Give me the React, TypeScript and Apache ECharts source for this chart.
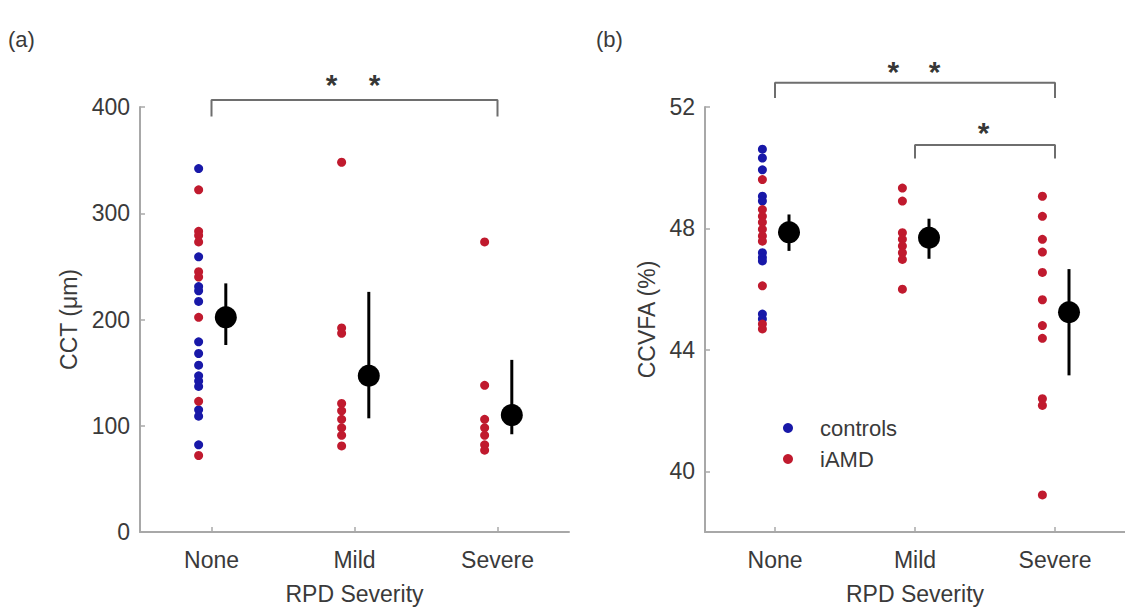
import React, { useEffect, useRef } from "react";
import * as echarts from "echarts";

// ---- data ----
const categories = ["None", "Mild", "Severe"];

// (a) CCT (µm)
const cctNoneControls = [342, 259, 231, 227, 217, 179, 168, 157, 147, 142, 137, 115, 109, 82];
const cctNoneIAMD = [322, 283, 279, 273, 245, 240, 202, 123, 72];
const cctMildIAMD = [348, 192, 187, 121, 114, 106, 98, 91, 81];
const cctSevereIAMD = [273, 138, 106, 98, 91, 82, 77];
const cctMean = [202, 147, 110];
const cctLow = [176, 107, 92];
const cctHigh = [234, 226, 162];
const cctTicks = [0, 100, 200, 300, 400];

// (b) CCVFA (%)
const ccvfaNoneControls = [50.61, 50.32, 49.93, 49.06, 48.9, 47.2, 47.04, 46.93, 45.18, 45.02];
const ccvfaNoneIAMD = [49.61, 48.62, 48.4, 48.2, 47.97, 47.75, 47.58, 46.11, 44.85, 44.69];
const ccvfaMildIAMD = [49.33, 48.9, 47.86, 47.64, 47.42, 47.2, 46.98, 46.0];
const ccvfaSevereIAMD = [49.06, 48.4, 47.64, 47.22, 46.55, 45.65, 44.8, 44.38, 42.39, 42.17, 39.22];
const ccvfaMean = [47.87, 47.69, 45.24];
const ccvfaLow = [47.26, 47.0, 43.16];
const ccvfaHigh = [48.46, 48.32, 46.66];
const ccvfaTicks = [40, 44, 48, 52];

// significance brackets: [fromCat, toCat, top, foot]
const cctBrackets = [[1, 3, 406.5, 391]];
const cctStars = [[1.84, 425], [2.14, 425]];
const ccvfaBrackets = [[1, 3, 52.8, 52.3], [2, 3, 50.75, 50.3]];
const ccvfaStars = [[1.845, 53.31], [2.14, 53.31], [2.49, 51.3]];

// ---- style ----
const DOT_OFFSET = -0.09;
const MEAN_OFFSET = 0.1;
const BLUE = "#1818a8";
const RED = "#c01a2e";
const AXIS = "#a8a8a8";
const TXT = "#3a3a3a";
const FONT = "Liberation Sans, Arial, Helvetica, sans-serif";

const dots = (cat: number, vals: number[]) => vals.map((v) => [cat + DOT_OFFSET, v]);
const means = (m: number[], lo: number[], hi: number[]) =>
  m.map((v, i) => [i + 1 + MEAN_OFFSET, v, lo[i], hi[i]]);
const bracketLine = (b: number[]) => [[b[0], b[3]], [b[0], b[2]], [b[1], b[2]], [b[1], b[3]]];

function renderMean(params: any, api: any) {
  const x = api.value(0);
  const pM = api.coord([x, api.value(1)]);
  const pLo = api.coord([x, api.value(2)]);
  const pHi = api.coord([x, api.value(3)]);
  return {
    type: "group",
    children: [
      { type: "line", shape: { x1: pLo[0], y1: pLo[1], x2: pHi[0], y2: pHi[1] }, style: { stroke: "#000", lineWidth: 3 } },
      { type: "circle", shape: { cx: pM[0], cy: pM[1], r: 11 }, style: { fill: "#000" } },
    ],
  };
}

function xAxisFor(gridIndex: number) {
  return {
    type: "value",
    gridIndex,
    min: 0.5,
    max: 3.5,
    name: "RPD Severity",
    nameLocation: "middle",
    nameGap: 50,
    nameTextStyle: { fontSize: 23, color: TXT, fontFamily: FONT },
    axisLine: { show: true, lineStyle: { color: AXIS, width: 2 } },
    axisTick: { show: true, inside: true, length: 5, lineStyle: { color: AXIS, width: 1.5 }, customValues: [1, 2, 3] },
    axisLabel: {
      customValues: [1, 2, 3],
      formatter: (v: number) => categories[Math.round(v) - 1] || "",
      fontSize: 23,
      color: TXT,
      fontFamily: FONT,
      margin: 16,
    },
    splitLine: { show: false },
  };
}

function yAxisFor(gridIndex: number, min: number, max: number, ticks: number[], name: string, nameGap: number) {
  return {
    type: "value",
    gridIndex,
    min,
    max,
    name,
    nameLocation: "middle",
    nameGap,
    nameTextStyle: { fontSize: 23, color: TXT, fontFamily: FONT },
    axisLine: { show: true, lineStyle: { color: AXIS, width: 2 } },
    axisTick: { show: true, inside: true, length: 5, lineStyle: { color: AXIS, width: 1.5 }, customValues: ticks },
    axisLabel: { customValues: ticks, fontSize: 23, color: TXT, fontFamily: FONT, margin: 10 },
    splitLine: { show: false },
  };
}

function starSeries(xi: number, data: number[][]) {
  return {
    type: "scatter",
    xAxisIndex: xi,
    yAxisIndex: xi,
    data,
    symbol: "circle",
    symbolSize: 2,
    itemStyle: { color: "rgba(0,0,0,0)" },
    clip: false,
    silent: true,
    z: 10,
    label: {
      show: true,
      position: "inside",
      formatter: "*",
      fontSize: 30,
      fontWeight: "bold",
      color: "#000",
      fontFamily: FONT,
      offset: [0, 4],
    },
  };
}

function bracketSeries(xi: number, b: number[]) {
  return {
    type: "line",
    xAxisIndex: xi,
    yAxisIndex: xi,
    data: bracketLine(b),
    symbol: "none",
    clip: false,
    silent: true,
    lineStyle: { color: "#6e6e6e", width: 2 },
  };
}

function scatter(name: string, color: string, xi: number, data: number[][]) {
  return {
    name,
    type: "scatter",
    xAxisIndex: xi,
    yAxisIndex: xi,
    data,
    symbolSize: 9,
    itemStyle: { color, opacity: 1 },
  };
}

export default function App() {
  const ref = useRef<HTMLDivElement>(null);
  useEffect(() => {
    if (!ref.current) return;
    const chart = echarts.init(ref.current, undefined, { renderer: "svg" });
    chart.setOption({
      animation: false,
      backgroundColor: "#ffffff",
      textStyle: { fontFamily: FONT },
      grid: [
        { left: 140, top: 107, width: 429, height: 428 },
        { left: 705, top: 107, width: 430, height: 427 },
      ],
      xAxis: [xAxisFor(0), xAxisFor(1)],
      yAxis: [
        yAxisFor(0, 0, 400, cctTicks, "CCT (\u03bcm)", 60),
        yAxisFor(1, 38, 52, ccvfaTicks, "CCVFA (%)", 47),
      ],
      legend: {
        data: ["controls", "iAMD"],
        orient: "vertical",
        left: 778,
        top: 412,
        itemWidth: 10,
        itemHeight: 10,
        itemGap: 9,
        icon: "circle",
        textStyle: { fontSize: 22, color: TXT, fontFamily: FONT, padding: [0, 0, 0, 22] },
        selectedMode: false,
      },
      graphic: [
        { type: "text", left: 8, top: 28, style: { text: "(a)", fontSize: 22, fill: TXT, fontFamily: FONT } },
        { type: "text", left: 596, top: 28, style: { text: "(b)", fontSize: 22, fill: TXT, fontFamily: FONT } },
      ],
      series: [
        scatter("controls", BLUE, 0, dots(1, cctNoneControls)),
        scatter("iAMD", RED, 0, [...dots(1, cctNoneIAMD), ...dots(2, cctMildIAMD), ...dots(3, cctSevereIAMD)]),
        scatter("controls", BLUE, 1, dots(1, ccvfaNoneControls)),
        scatter("iAMD", RED, 1, [...dots(1, ccvfaNoneIAMD), ...dots(2, ccvfaMildIAMD), ...dots(3, ccvfaSevereIAMD)]),
        {
          type: "custom",
          xAxisIndex: 0,
          yAxisIndex: 0,
          renderItem: renderMean,
          data: means(cctMean, cctLow, cctHigh),
          encode: { x: 0, y: [1, 2, 3] },
        },
        {
          type: "custom",
          xAxisIndex: 1,
          yAxisIndex: 1,
          renderItem: renderMean,
          data: means(ccvfaMean, ccvfaLow, ccvfaHigh),
          encode: { x: 0, y: [1, 2, 3] },
        },
        ...cctBrackets.map((b) => bracketSeries(0, b)),
        ...ccvfaBrackets.map((b) => bracketSeries(1, b)),
        starSeries(0, cctStars),
        starSeries(1, ccvfaStars),
      ],
    });
    return () => chart.dispose();
  }, []);
  return (
    <div
      ref={ref}
      style={{ position: "fixed", left: 0, top: 0, width: 1125, height: 610, background: "#fff" }}
    />
  );
}
